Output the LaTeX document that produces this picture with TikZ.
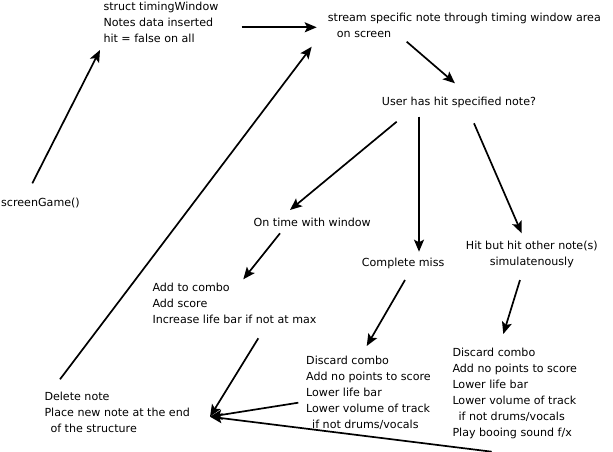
\documentclass[tikz,border=0pt]{standalone}
\usepackage{fontspec}
\setmainfont{DejaVu Sans}
\usetikzlibrary{arrows.meta,calc,positioning}
\tikzstyle{task}=[inner sep=0pt, anchor=north west, align=left,
font=\fontsize{11.1}{16}\selectfont]
\tikzstyle{flow}=[line width=1.7pt]

\begin{document}
\begin{tikzpicture}[x=1pt,y=-1pt,>={Stealth[length=12pt,width=10pt,inset=2.5pt]}]
    \useasboundingbox (0,0) rectangle (613,452);

    \node[task] (screen) at (1,197.6) {screenGame()};
    \node[task] (window) at (103.3,1.6) {struct timingWindow\\Notes data inserted\\hit = false on all};
    \node[task] (stream) at (327.7,13.3) {stream specific note through timing window area\\\hspace*{9pt}on screen};
    \node[task] (user) at (381.7,96.6) {User has hit specified note?};
    \node[task] (ontime) at (253.5,217.6) {On time with window};
    \node[task] (miss) at (361.7,258.3) {Complete miss};
    \node[task, align=center] (hit) at (465.7,240.9) {Hit but hit other note(s)\\simulatenously};
    \node[task] (combo) at (152.3,283.3) {Add to combo\\Add score\\Increase life bar if not at max};
    \node[task] (missres) at (306,355.6) {Discard combo\\Add no points to score\\Lower life bar\\Lower volume of track\\\hspace*{6pt}if not drums/vocals};
    \node[task] (hitres) at (452.3,348.3) {Discard combo\\Add no points to score\\Lower life bar\\Lower volume of track\\\hspace*{6pt}if not drums/vocals\\Play booing sound f/x};
    \node[task] (delnote) at (44.3,392.3) {Delete note\\Place new note at the end\\\hspace*{6pt}of the structure};

    \draw[->,flow] ($(screen.north west)+(31.3,-14.3)$) -- ($(window.north west)+(-3.3,48.4)$);
    \draw[->,flow] ($(window.north west)+(138.4,25.7)$) -- ($(stream.north west)+(-11,14)$);
    \draw[->,flow] ($(delnote.north west)+(15.7,-13)$) -- ($(stream.north west)+(-16,33.4)$);
    \draw[->,flow] ($(stream.north west)+(79,28.4)$) -- ($(user.north west)+(73.3,-13.3)$);
    \draw[->,flow] ($(user.north west)+(15,25.1)$) -- ($(ontime.north west)+(36.5,-7.6)$);
    \draw[->,flow] ($(user.north west)+(37.3,20.1)$) -- ($(miss.north west)+(57.3,-6.6)$);
    \draw[->,flow] ($(user.north west)+(92.3,26.7)$) -- ($(hit.north west)+(56,-7.6)$);
    \draw[->,flow] ($(ontime.north west)+(26.5,15.7)$) -- ($(combo.north west)+(91,-4)$);
    \draw[->,flow] ($(miss.north west)+(43.3,21.7)$) -- ($(missres.north west)+(60.7,-9.6)$);
    \draw[->,flow] ($(hit.north west)+(54.3,39.1)$) -- ($(hitres.north west)+(51,-14.3)$);
    \draw[->,flow] ($(combo.north west)+(106,55)$) -- ($(delnote.north west)+(165.7,24.4)$);
    \draw[->,flow] ($(missres.north west)+(-7.7,47.1)$) -- ($(delnote.north west)+(165.7,24.4)$);
    \draw[->,flow] ($(hitres.north west)+(39.4,103.4)$) -- ($(delnote.north west)+(165.7,24.4)$);
  \end{tikzpicture}
\end{document}
